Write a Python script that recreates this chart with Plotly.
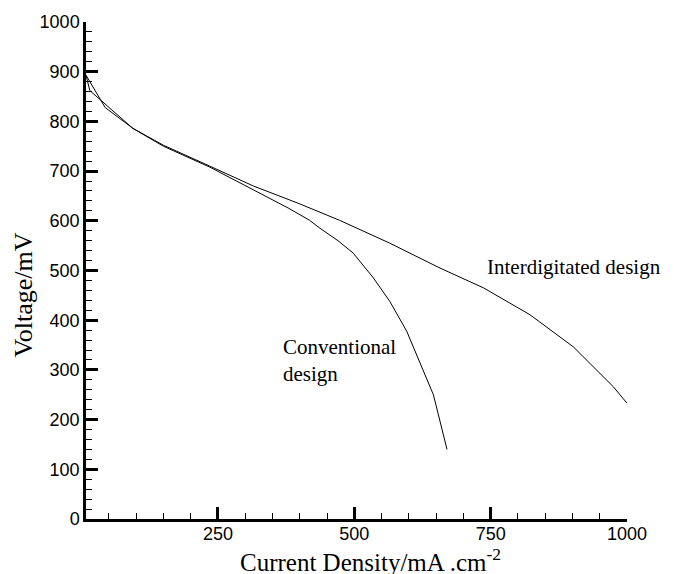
import plotly.graph_objects as go

# Conventional design
conv_x = [8, 15, 94, 150, 235, 315, 380, 418, 437, 470, 498, 535, 565, 596, 624, 645, 670]
conv_v = [893, 862, 786, 750, 708, 663, 625, 601, 585, 560, 535, 485, 438, 378, 305, 250, 140]

# Interdigitated design
inter_x = [8, 43, 94, 150, 235, 315, 400, 473, 565, 657, 737, 822, 902, 975, 1000]
inter_v = [893, 828, 786, 752, 710, 670, 634, 601, 555, 505, 465, 411, 346, 266, 233]

x_ticks = [250, 500, 750, 1000]
y_ticks = [0, 100, 200, 300, 400, 500, 600, 700, 800, 900, 1000]

fig = go.Figure()
fig.add_trace(go.Scatter(x=conv_x, y=conv_v, mode="lines",
                         line=dict(color="black", width=1), showlegend=False))
fig.add_trace(go.Scatter(x=inter_x, y=inter_v, mode="lines",
                         line=dict(color="black", width=1), showlegend=False))

tickfont = dict(family="Liberation Sans, Arial", size=18, color="black")
serif = "Liberation Serif, Times New Roman"

fig.update_layout(
    width=674, height=574,
    margin=dict(l=86, r=47, t=19, b=55),
    paper_bgcolor="white", plot_bgcolor="white",
    xaxis=dict(range=[8, 1000], tickvals=x_ticks, ticks="inside", ticklen=12,
               tickwidth=2.5, tickcolor="black", showline=True, linecolor="black",
               linewidth=2.5, showgrid=False, zeroline=False, tickfont=tickfont,
               ticklabelstandoff=-3,
               minor=dict(dtick=50, ticks="inside", ticklen=6, tickwidth=1.2,
                          tickcolor="black", showgrid=False)),
    yaxis=dict(range=[0, 1000], tickvals=y_ticks, ticks="inside", ticklen=12,
               tickwidth=2.5, tickcolor="black", showline=True, linecolor="black",
               linewidth=2.5, showgrid=False, zeroline=False, tickfont=tickfont,
               minor=dict(dtick=20, ticks="inside", ticklen=6, tickwidth=1.2,
                          tickcolor="black", showgrid=False)),
    annotations=[
        dict(text="Interdigitated design", x=740, y=508, xref="x", yref="y",
             xanchor="left", yanchor="middle", showarrow=False,
             font=dict(family=serif, size=21, color="black")),
        dict(text="Conventional<br>design", x=365, y=318, xref="x", yref="y",
             xanchor="left", yanchor="middle", align="left", showarrow=False,
             font=dict(family=serif, size=21, color="black")),
        dict(text="Current Density/mA .cm<sup>-2</sup>", x=0.526, y=-0.116,
             xref="paper", yref="paper", xanchor="center", yanchor="bottom",
             borderpad=0, showarrow=False,
             font=dict(family=serif, size=25, color="black")),
        dict(text="Voltage/mV", x=-0.116, y=0.45, xref="paper", yref="paper",
             xanchor="center", yanchor="middle", textangle=-90, showarrow=False,
             font=dict(family=serif, size=26, color="black")),
    ],
)

fig.write_html("out.html")
